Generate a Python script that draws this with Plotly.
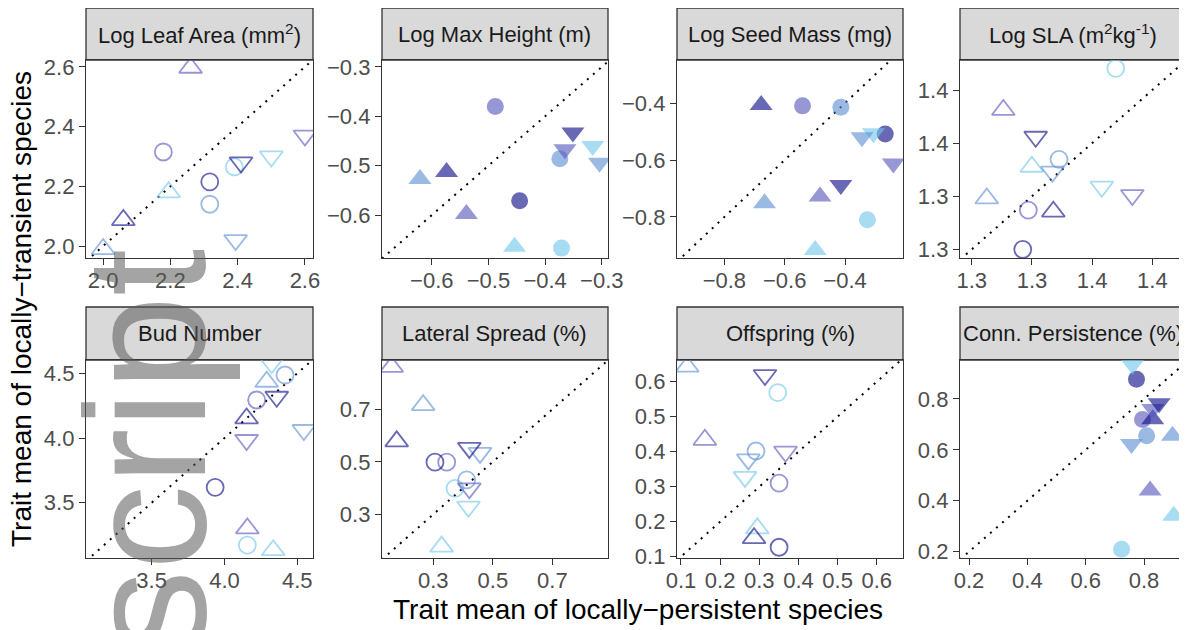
import plotly.graph_objects as go

# the page places the figure 8px from the top-left corner of the window
OFF = 8
W, H = 1187 - OFF, 630 - OFF

# ---------------- data ----------------
panel_titles = [
    "Log Leaf Area (mm<sup>2</sup>)", "Log Max Height (m)", "Log Seed Mass (mg)",
    "Log SLA (m<sup>2</sup>kg<sup>-1</sup>)", "Bud Number", "Lateral Spread (%)",
    "Offspring (%)", "Conn. Persistence (%)",
]

# point order in every panel: circles (c1..c4), triangle-up (c1..c4), triangle-down (c1..c4)
point_shapes = ["circle"] * 4 + ["triangle-up"] * 4 + ["triangle-down"] * 4
point_groups = [0, 1, 2, 3] * 3

leaf_x = [2.39, 2.317, 2.179, 2.317, 2.195, 2.0, 2.26, 2.06, 2.50, 2.394, 2.60, 2.41]
leaf_y = [2.265, 2.14, 2.315, 2.215, 2.18, 1.99, 2.597, 2.087, 2.30, 2.02, 2.37, 2.28]

height_x = [-0.371, -0.374, -0.488, -0.445, -0.454, -0.621, -0.539, -0.574, -0.316, -0.304, -0.365, -0.351]
height_y = [-0.667, -0.486, -0.380, -0.571, -0.664, -0.527, -0.598, -0.513, -0.460, -0.494, -0.467, -0.433]

seed_x = [-0.326, -0.414, -0.541, -0.267, -0.499, -0.667, -0.483, -0.678, -0.306, -0.344, -0.240, -0.414]
seed_y = [-0.810, -0.415, -0.410, -0.509, -0.916, -0.752, -0.728, -0.407, -0.506, -0.520, -0.612, -0.688]

sla_x = [1.3757, 1.338, 1.3176, 1.3139, 1.3199, 1.290, 1.301, 1.3342, 1.3664, 1.3336, 1.3867, 1.3225]
sla_y = [1.4163, 1.3478, 1.3096, 1.280, 1.3422, 1.3184, 1.385, 1.3084, 1.3272, 1.3385, 1.3209, 1.3648]

bud_x = [4.157, 4.416, 4.221, 3.936, 4.335, 4.29, 4.157, 4.152, 4.324, 4.545, 4.152, 4.359]
bud_y = [3.173, 4.487, 4.294, 3.619, 3.134, 4.435, 3.302, 4.152, 4.577, 4.062, 3.985, 4.319]

lateral_x = [0.3728, 0.412, 0.345, 0.3056, 0.328, 0.266, 0.160, 0.177, 0.418, 0.457, 0.421, 0.421]
lateral_y = [0.399, 0.431, 0.4985, 0.4985, 0.177, 0.716, 0.862, 0.578, 0.329, 0.534, 0.399, 0.553]

offspring_x = [0.347, 0.2915, 0.3505, 0.3505, 0.295, 0.116, 0.161, 0.2866, 0.2635, 0.272, 0.367, 0.3145]
offspring_y = [0.569, 0.402, 0.310, 0.127, 0.181, 0.643, 0.434, 0.153, 0.328, 0.378, 0.400, 0.619]

conn_x = [0.7232, 0.809, 0.795, 0.7742, 0.902, 0.8977, 0.821, 0.830, 0.7605, 0.757, 0.830, 0.852]
conn_y = [0.209, 0.655, 0.719, 0.877, 0.341, 0.655, 0.440, 0.720, 0.934, 0.623, 0.760, 0.783]

panel_x = [leaf_x, height_x, seed_x, sla_x, bud_x, lateral_x, offspring_x, conn_x]
panel_y = [leaf_y, height_y, seed_y, sla_y, bud_y, lateral_y, offspring_y, conn_y]
panel_filled = [False, True, True, False, False, False, False, True]

ticks_leaf = [2.0, 2.2, 2.4, 2.6]
ticks_height = [-0.6, -0.5, -0.4, -0.3]
ticks_seed = [-0.8, -0.6, -0.4]
ticks_sla = [1.28, 1.32, 1.36, 1.40]
ticks_bud = [3.5, 4.0, 4.5]
ticks_lateral = [0.3, 0.5, 0.7]
ticks_offspring = [0.1, 0.2, 0.3, 0.4, 0.5, 0.6]
ticks_conn = [0.2, 0.4, 0.6, 0.8]
panel_ticks = [ticks_leaf, ticks_height, ticks_seed, ticks_sla, ticks_bud,
               ticks_lateral, ticks_offspring, ticks_conn]

x_ranges = [[1.949, 2.624], [-0.688, -0.289], [-0.957, -0.208], [1.2722, 1.4217],
            [3.049, 4.608], [0.1276, 0.887], [0.0898, 0.667], [0.169, 0.9406]]
y_ranges = [[1.960, 2.623], [-0.687, -0.286], [-0.944, -0.249], [1.2735, 1.4226],
            [3.073, 4.603], [0.1335, 0.888], [0.0963, 0.662], [0.175, 0.953]]

group_colors = ["rgba(115,200,235,0.9)", "rgba(95,145,210,0.9)",
                "rgba(90,90,190,0.9)", "rgba(20,20,140,0.92)"]

# ---------------- layout geometry (window pixels) ----------------
col_px = [(86, 313), (382, 608), (677, 903), (960, 1185)]
row_plot_px = [(60, 258), (360, 558)]
row_strip_px = [(8, 60), (307, 360)]


def fx(p):
    return (p - OFF) / W


def fy(p):
    return 1 - (p - OFF) / H


def fmt(v):
    return f"{v:.1f}".replace("-", "\u2212")


fig = go.Figure()
layout = dict(
    template="none",
    width=W, height=H, margin=dict(l=0, r=0, t=0, b=0, pad=0, autoexpand=False),
    paper_bgcolor="white", plot_bgcolor="white", showlegend=False,
    font=dict(family="Liberation Sans, Arial, sans-serif", color="#4d4d4d"),
)
shapes = []
annotations = []

for i in range(8):
    r, c = divmod(i, 4)
    n = i + 1
    xa, ya = f"x{n}", f"y{n}"
    xs, ys = panel_x[i], panel_y[i]
    sizes = [17 if s == "circle" else 20 for s in point_shapes]
    colors = [group_colors[g] for g in point_groups]
    if panel_filled[i]:
        marker = dict(symbol=point_shapes, size=sizes, color=colors, line=dict(width=0))
    else:
        marker = dict(symbol=[s + "-open" for s in point_shapes], size=sizes, color=colors,
                      line=dict(width=1.8))
    # 1:1 reference line across the panel
    lo = min(x_ranges[i][0], y_ranges[i][0])
    hi = max(x_ranges[i][1], y_ranges[i][1])
    fig.add_trace(go.Scatter(x=[lo, hi], y=[lo, hi], mode="lines", xaxis=xa, yaxis=ya,
                             line=dict(color="black", width=2, dash="2px,6px"),
                             hoverinfo="skip"))
    fig.add_trace(go.Scatter(x=xs, y=ys, mode="markers", xaxis=xa, yaxis=ya, marker=marker))

    tv = panel_ticks[i]
    tt = [fmt(v) for v in tv]
    x0, x1 = col_px[c]
    p0, p1 = row_plot_px[r]
    axis_common = dict(showgrid=False, zeroline=False, showline=True, mirror=True,
                       automargin=False,
                       linecolor="#333333", linewidth=1.3, ticks="outside", ticklen=6,
                       tickwidth=1.3, tickcolor="#333333", tickvals=tv, ticktext=tt,
                       tickfont=dict(size=22, color="#4d4d4d"))
    layout[f"xaxis{n}"] = dict(domain=[fx(x0), fx(x1)], range=x_ranges[i], anchor=ya,
                               ticklabelstandoff=-4, **axis_common)
    layout[f"yaxis{n}"] = dict(domain=[fy(p1), fy(p0)], range=y_ranges[i], anchor=xa, **axis_common)

    s0, s1 = row_strip_px[r]
    shapes.append(dict(type="rect", xref="paper", yref="paper", x0=fx(x0), x1=fx(x1),
                       y0=fy(s1), y1=fy(s0), fillcolor="#d9d9d9",
                       line=dict(color="#333333", width=1.3), layer="below"))
    annotations.append(dict(text=panel_titles[i], xref="paper", yref="paper",
                            x=fx((x0 + x1) / 2), y=fy((s0 + s1) / 2), xanchor="center",
                            yanchor="middle", showarrow=False,
                            font=dict(size=22, color="#1a1a1a")))

annotations.append(dict(text="Trait mean of locally\u2212persistent species", xref="paper",
                        yref="paper", x=fx(638), y=fy(609), xanchor="center", yanchor="middle",
                        showarrow=False, font=dict(size=28, color="black")))
annotations.append(dict(text="Trait mean of locally\u2212transient species", xref="paper",
                        yref="paper", x=fx(22), y=fy(309), xanchor="center", yanchor="middle",
                        textangle=-90, showarrow=False, font=dict(size=28, color="black")))
# large grey overlay text
annotations.append(dict(text="script", xref="paper", yref="paper", x=fx(146), y=fy(452),
                        xanchor="center", yanchor="middle", textangle=-90, showarrow=False,
                        font=dict(size=170, color="rgba(90,90,90,0.55)")))

layout["shapes"] = shapes
layout["annotations"] = annotations
fig.update_layout(**layout)
fig.write_html("out.html")
